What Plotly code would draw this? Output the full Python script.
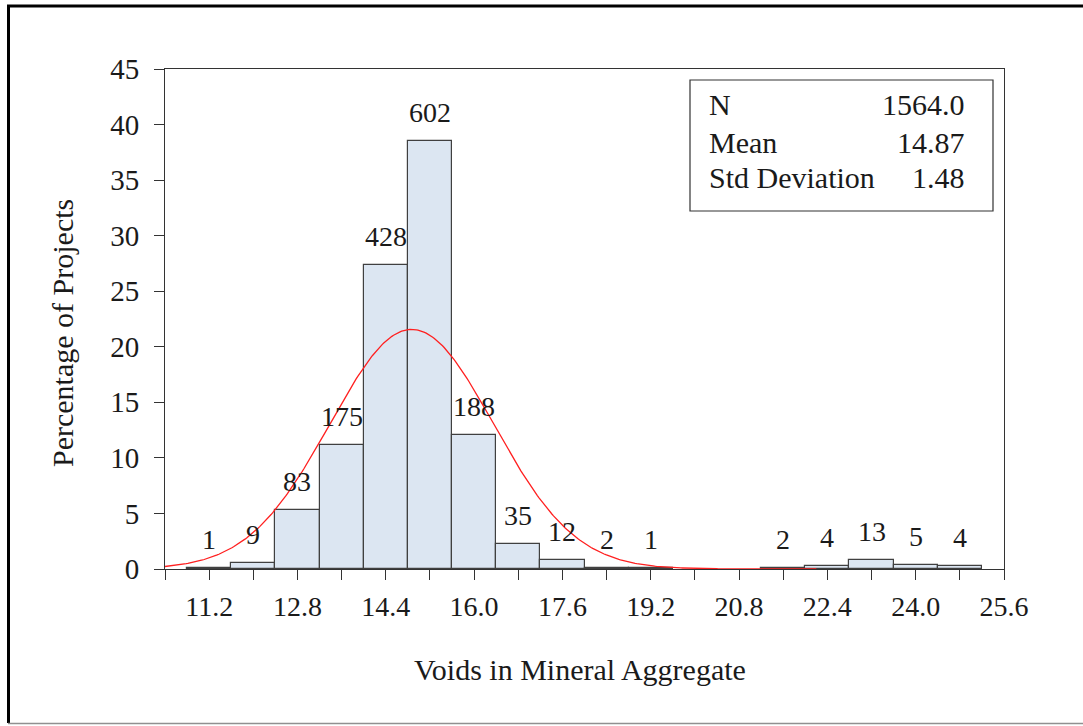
import numpy as np
import plotly.graph_objects as go

# Histogram of VMA values (bin width 0.8)
bin_centers = [11.2, 12.0, 12.8, 13.6, 14.4, 15.2, 16.0, 16.8, 17.6, 18.4,
               19.2, 20.0, 20.8, 21.6, 22.4, 23.2, 24.0, 24.8]
counts = [1, 9, 83, 175, 428, 602, 188, 35, 12, 2,
          1, 0, 0, 2, 4, 13, 5, 4]
bin_width = 0.8

# Summary statistics
n_total = 1564
mean_vma = 14.87
std_vma = 1.48
stat_names = ["N", "Mean", "Std Deviation"]
stat_values = ["1564.0", "14.87", "1.48"]

# Axis ticks
x_major = [11.2, 12.8, 14.4, 16.0, 17.6, 19.2, 20.8, 22.4, 24.0, 25.6]
x_major_text = ["11.2", "12.8", "14.4", "16.0", "17.6", "19.2", "20.8", "22.4", "24.0", "25.6"]
x_minor = [10.4, 12.0, 13.6, 15.2, 16.8, 18.4, 20.0, 21.6, 23.2, 24.8]
y_ticks = [0, 5, 10, 15, 20, 25, 30, 35, 40, 45]

FONT = "Liberation Serif, Times New Roman, serif"
TXT = "#1a1a1a"
AX = "#333333"

pct = [100.0 * c / n_total for c in counts]
bx = [x for x, c in zip(bin_centers, counts) if c > 0]
by = [p for p, c in zip(pct, counts) if c > 0]

# Fitted normal curve, scaled to percent per bin
xc = np.linspace(10.4, 22.2, 400)
yc = 100.0 * bin_width / (std_vma * np.sqrt(2 * np.pi)) * np.exp(-0.5 * ((xc - mean_vma) / std_vma) ** 2)

W, H = 1083, 726
L, R, T, B = 165, 1004, 69, 569


def px(x):
    return (x - L) / (R - L)


def py(y):
    return (B - y) / (B - T)


fig = go.Figure()
fig.add_trace(go.Bar(
    x=bx, y=by, width=bin_width,
    marker=dict(color="#DCE6F2", line=dict(color="#404040", width=1.2)),
    hoverinfo="skip", showlegend=False,
))
fig.add_trace(go.Scatter(
    x=xc, y=yc, mode="lines",
    line=dict(color="#FF2020", width=1.3),
    hoverinfo="skip", showlegend=False,
))

annotations = []
for x, c, p in zip(bin_centers, counts, pct):
    if c == 0:
        continue
    annotations.append(dict(
        x=x, y=p, xref="x", yref="y", text=str(c), showarrow=False,
        yanchor="bottom", yshift=11,
        font=dict(family=FONT, size=28, color=TXT),
    ))

# Axis titles
annotations.append(dict(
    x=px(580), y=py(669), xref="paper", yref="paper",
    text="Voids in Mineral Aggregate", showarrow=False,
    xanchor="center", yanchor="middle",
    font=dict(family=FONT, size=30, color=TXT),
))
annotations.append(dict(
    x=px(62), y=py(333), xref="paper", yref="paper",
    text="Percentage of Projects", showarrow=False, textangle=-90,
    xanchor="center", yanchor="middle",
    font=dict(family=FONT, size=30, color=TXT),
))

# Statistics box text
row_y = [105, 142, 177]
for name, val, ry in zip(stat_names, stat_values, row_y):
    annotations.append(dict(
        x=px(707), y=py(ry), xref="paper", yref="paper", text=name,
        showarrow=False, xanchor="left", yanchor="middle",
        font=dict(family=FONT, size=30, color=TXT),
    ))
    annotations.append(dict(
        x=px(967), y=py(ry), xref="paper", yref="paper", text=val,
        showarrow=False, xanchor="right", yanchor="middle",
        font=dict(family=FONT, size=30, color=TXT),
    ))

shapes = [
    # statistics box
    dict(type="rect", xref="paper", yref="paper",
         x0=px(690), x1=px(993), y0=py(80), y1=py(211),
         line=dict(color="#333333", width=1.2), fillcolor="rgba(0,0,0,0)"),
    # outer frame
    dict(type="line", xref="paper", yref="paper",
         x0=px(8.5), x1=px(8.5), y0=py(5), y1=py(723),
         line=dict(color="#000000", width=3)),
    dict(type="line", xref="paper", yref="paper",
         x0=px(7), x1=px(1090), y0=py(6), y1=py(6),
         line=dict(color="#000000", width=3)),
    dict(type="line", xref="paper", yref="paper",
         x0=px(8), x1=px(1090), y0=py(723.5), y1=py(723.5),
         line=dict(color="#909090", width=1.5)),
]

fig.update_layout(
    width=W, height=H,
    margin=dict(l=L, r=W - R, t=T, b=H - B, pad=0),
    paper_bgcolor="white", plot_bgcolor="white",
    bargap=0,
    font=dict(family=FONT, size=28, color=TXT),
    annotations=annotations,
    shapes=shapes,
    xaxis=dict(
        range=[10.4, 25.6], tickmode="array", tickvals=x_major, ticktext=x_major_text,
        ticks="outside", ticklen=10, tickwidth=1, tickcolor=AX,
        showline=True, linecolor=AX, linewidth=1, mirror=True,
        showgrid=False, zeroline=False,
        tickfont=dict(family=FONT, size=28, color=TXT),
        ticklabelstandoff=2,
        minor=dict(tickmode="array", tickvals=x_minor, ticks="outside",
                   ticklen=10, tickwidth=1, tickcolor=AX, showgrid=False),
    ),
    yaxis=dict(
        range=[0, 45], tickmode="array", tickvals=y_ticks,
        ticks="outside", ticklen=10, tickwidth=1, tickcolor=AX,
        showline=True, linecolor=AX, linewidth=1, mirror=True,
        showgrid=False, zeroline=False,
        tickfont=dict(family=FONT, size=29, color=TXT),
        ticklabelstandoff=9,
    ),
)

fig.write_html("out.html")
